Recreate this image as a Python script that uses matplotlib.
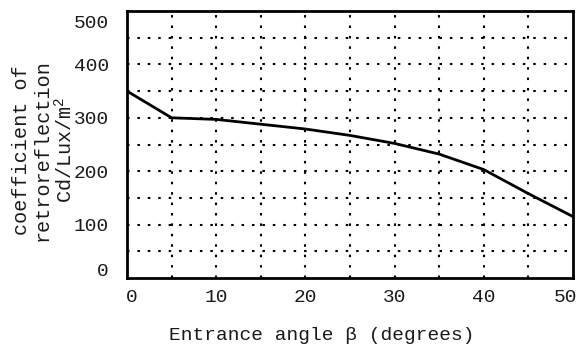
import matplotlib
matplotlib.use("Agg")
import matplotlib.pyplot as plt
import matplotlib.transforms as mtransforms

# values
angle_deg = [0, 5, 10, 15, 20, 25, 30, 35, 40, 45, 50]
coeff_ra = [350, 300, 297, 288, 279, 267, 252, 232, 203, 158, 115]

x_ticks = [0, 10, 20, 30, 40, 50]
y_ticks = [0, 100, 200, 300, 400, 500]
x_grid = [5, 10, 15, 20, 25, 30, 35, 40, 45]
y_grid = [50, 100, 150, 200, 250, 300, 350, 400, 450]

plt.rcParams["font.family"] = ["Liberation Mono", "DejaVu Sans Mono"]
plt.rcParams["mathtext.fontset"] = "custom"
plt.rcParams["mathtext.rm"] = "Liberation Mono"

fig = plt.figure(figsize=(5.81, 3.47), dpi=100)
ax = fig.add_axes([127 / 581, 1 - 278 / 347, 446 / 581, 267 / 347])

# dotted grid
for gx in x_grid:
    ax.axvline(gx, color="black", lw=1.5, ls=(0, (1.2, 3.8)), zorder=1)
for gy in y_grid:
    ax.axhline(gy, color="black", lw=1.5, ls=(0, (1.2, 3.8)), zorder=1)

ax.plot(angle_deg, coeff_ra, color="black", lw=2.0, zorder=3)

ax.set_xlim(0, 50)
ax.set_ylim(0, 500)
ax.set_xticks(x_ticks)
ax.set_yticks(y_ticks)
ax.tick_params(length=0, labelsize=14, colors="#1a1a1a")
ax.tick_params(axis="x", pad=8)
ax.tick_params(axis="y", pad=13)
for s in ax.spines.values():
    s.set_linewidth(2.0)

# scanned figure has the end labels pulled inward
def shift(lbl, dx, dy):
    lbl.set_transform(lbl.get_transform() + mtransforms.ScaledTranslation(dx / 100, dy / 100, fig.dpi_scale_trans))

ylabs = ax.get_yticklabels()
shift(ylabs[0], 0, 9)
shift(ylabs[-1], 0, -10)
xlabs = ax.get_xticklabels()
shift(xlabs[0], 5, 0)
shift(xlabs[-1], -8, 0)

fig.text(322 / 581, 1 - 335 / 347, "Entrance angle β (degrees)",
         ha="center", va="center", fontsize=14, color="#1a1a1a")
fig.text(44 / 581, 1 - 150 / 347, "coefficient of\nretroreflection\nCd/Lux/m$^2$",
         ha="center", va="center", rotation=90, fontsize=14.5,
         linespacing=1.08, color="#1a1a1a")

fig.savefig("out.png", dpi=100)
